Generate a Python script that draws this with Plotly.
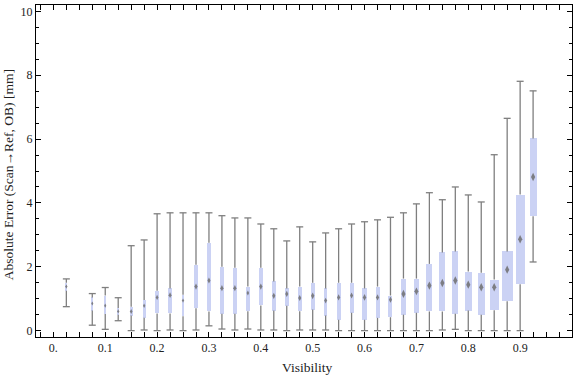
import plotly.graph_objects as go

# ---- data ----
visibility = [0.025, 0.075, 0.1, 0.125, 0.15, 0.175, 0.2, 0.225, 0.25, 0.275,
              0.3, 0.325, 0.35, 0.375, 0.4, 0.425, 0.45, 0.475, 0.5, 0.525,
              0.55, 0.575, 0.6, 0.625, 0.65, 0.675, 0.7, 0.725, 0.75, 0.775,
              0.8, 0.825, 0.85, 0.875, 0.9, 0.925]
whisker_low = [0.75, 0.17, 0.04, 0.31, 0.0, 0.02, 0.0, 0.02, 0.0, 0.02,
               0.15, 0.05, 0.02, 0.05, 0.02, 0.02, 0.0, 0.02, 0.02, 0.02,
               0.0, 0.0, 0.0, 0.0, 0.0, 0.0, 0.0, 0.0, 0.02, 0.04,
               0.0, 0.0, 0.0, 0.0, 0.0, 2.15]
quartile1 = [1.25, 0.63, 0.52, 0.5, 0.47, 0.4, 0.54, 0.54, 0.45, 0.70,
             0.6, 0.53, 0.53, 0.61, 0.79, 0.63, 0.78, 0.61, 0.66, 0.47,
             0.34, 0.56, 0.34, 0.40, 0.42, 0.50, 0.56, 0.6, 0.6, 0.53,
             0.63, 0.5, 0.64, 0.92, 1.45, 3.58]
median = [1.38, 0.85, 0.78, 0.6, 0.6, 0.78, 1.04, 1.11, 0.94, 1.38,
          1.57, 1.33, 1.33, 1.18, 1.38, 1.09, 1.15, 1.02, 1.09, 0.94,
          1.04, 1.10, 1.04, 1.04, 0.97, 1.15, 1.23, 1.41, 1.49, 1.57,
          1.44, 1.36, 1.36, 1.91, 2.86, 4.81]
quartile3 = [1.5, 1.04, 1.1, 0.71, 0.75, 0.96, 1.25, 1.32, 1.12, 2.06,
             2.75, 2.0, 1.97, 1.38, 1.97, 1.54, 1.32, 1.38, 1.50, 1.32,
             1.50, 1.50, 1.32, 1.38, 1.10, 1.63, 1.63, 2.09, 2.45, 2.48,
             1.85, 1.81, 1.60, 2.48, 4.26, 6.02]
whisker_high = [1.62, 1.16, 1.35, 1.03, 2.66, 2.84, 3.66, 3.69, 3.69, 3.69,
                3.69, 3.6, 3.53, 3.53, 3.34, 3.19, 2.81, 3.25, 2.78, 3.06,
                3.19, 3.34, 3.41, 3.47, 3.55, 3.69, 3.97, 4.32, 4.10, 4.5,
                4.25, 4.03, 5.51, 6.65, 7.81, 7.51]
# relative box widths (in units of visibility)
box_width = [0.002, 0.003, 0.003, 0.003, 0.0062, 0.0058, 0.0064, 0.0071, 0.0048, 0.0077,
             0.0077, 0.0077, 0.0077, 0.0064, 0.0077, 0.0077, 0.0077, 0.0077, 0.0083, 0.0071,
             0.0077, 0.0077, 0.0083, 0.0077, 0.0077, 0.0102, 0.0097, 0.0116, 0.0116, 0.0116,
             0.0135, 0.0135, 0.0174, 0.0212, 0.0174, 0.0135]

x_ticks = [0, 0.1, 0.2, 0.3, 0.4, 0.5, 0.6, 0.7, 0.8, 0.9]
x_ticklabels = ["0.", "0.1", "0.2", "0.3", "0.4", "0.5", "0.6", "0.7", "0.8", "0.9"]
y_ticks = [0, 2, 4, 6, 8, 10]

# ---- styles ----
BOX_COLOR = "#cbd2f4"
WHISKER_COLOR = "#7f7f7f"
MEDIAN_COLOR = "#6f6f6f"
FONT = "Liberation Serif"
TEXT_COLOR = "#222222"

# whisker segments (low -> q1, q3 -> high)
wx, wy = [], []
for x, lo, q1, q3, hi in zip(visibility, whisker_low, quartile1, quartile3, whisker_high):
    wx += [x, x, None, x, x, None]
    wy += [lo, q1, None, q3, hi, None]

fig = go.Figure()
fig.add_trace(go.Bar(
    x=visibility, base=quartile1,
    y=[b - a for a, b in zip(quartile1, quartile3)],
    width=box_width,
    marker=dict(color=BOX_COLOR, line=dict(width=0)),
    hoverinfo="skip", showlegend=False,
))
fig.add_trace(go.Scatter(
    x=wx, y=wy, mode="lines",
    line=dict(color=WHISKER_COLOR, width=1.3),
    hoverinfo="skip", showlegend=False,
))
fig.add_trace(go.Scatter(
    x=visibility + visibility, y=whisker_low + whisker_high, mode="markers",
    marker=dict(symbol="line-ew", size=5, line=dict(color=WHISKER_COLOR, width=1.3)),
    hoverinfo="skip", showlegend=False,
))
med_sizes = [max(3, min(6, w * 518 * 1.1)) for w in box_width]
fig.add_trace(go.Scatter(
    x=visibility, y=median, mode="markers",
    marker=dict(symbol="diamond-tall", size=med_sizes, color=MEDIAN_COLOR,
                line=dict(width=0), opacity=0.85),
    hoverinfo="skip", showlegend=False,
))

axis_common = dict(
    showgrid=False, zeroline=False, showline=True, linecolor="black", linewidth=1,
    mirror="ticks", ticks="inside", tickcolor="black", tickwidth=1, automargin=False,
    tickfont=dict(family=FONT, size=12, color=TEXT_COLOR),
)
fig.update_layout(
    width=576, height=377,
    margin=dict(l=36, r=4, t=5, b=40, autoexpand=False),
    paper_bgcolor="white", plot_bgcolor="white",
    font=dict(family=FONT, size=12, color=TEXT_COLOR),
    xaxis=dict(
        range=[-0.0335, 1.0], tickvals=x_ticks, ticktext=x_ticklabels, ticklen=5,
        minor=dict(dtick=0.025, tick0=0, ticklen=5, ticks="inside", tickcolor="black"),
        **axis_common,
    ),
    yaxis=dict(
        range=[-0.2, 10.2], tickvals=y_ticks, ticklen=5,
        minor=dict(dtick=0.5, tick0=0, ticklen=3, ticks="inside", tickcolor="black"),
        **axis_common,
    ),
    bargap=0,
    annotations=[
        dict(text="Visibility", xref="paper", yref="paper", x=0.506, y=-0.093,
             xanchor="center", yanchor="middle", showarrow=False,
             font=dict(family=FONT, size=13.5, color=TEXT_COLOR)),
        dict(text="Absolute Error (Scan→Ref, OB) [mm]", xref="paper", yref="paper",
             x=-0.05, y=0.488, xanchor="center", yanchor="middle", textangle=-90,
             showarrow=False, font=dict(family=FONT, size=13.5, color=TEXT_COLOR)),
    ],
)

fig.write_html("out.html", config={"displayModeBar": False},
               post_script="document.body.style.margin='0';document.body.style.overflow='hidden';")
